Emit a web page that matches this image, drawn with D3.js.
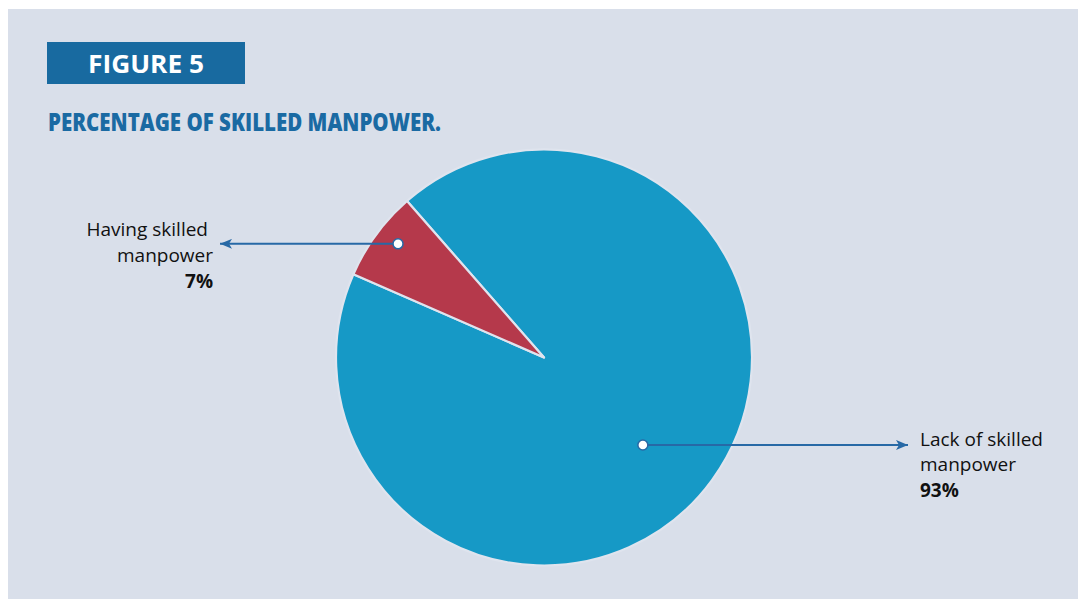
<!DOCTYPE html>
<html>
<head>
<meta charset="utf-8">
<script src="https://cdn.jsdelivr.net/npm/d3@7"></script>
<style>
  html, body { margin: 0; padding: 0; background: #ffffff; }
  svg { display: block; }
</style>
</head>
<body>
<svg id="chart" width="1078" height="599"></svg>
<script>
// Survey result: share of respondents with / without skilled manpower
const categories = ["Lack of skilled manpower", "Having skilled manpower"];
const labelLines = [["Lack of skilled", "manpower"], ["Having skilled", "manpower"]];
const values = [93, 7];
const sliceColors = ["#1699c6", "#b5394b"];

const W = 1078, H = 599;
const svg = d3.select("#chart");

// panel background
svg.append("rect")
  .attr("x", 8).attr("y", 9)
  .attr("width", W - 8).attr("height", H - 9)
  .attr("fill", "#d9dfea");

// figure tag
svg.append("rect")
  .attr("x", 47).attr("y", 42)
  .attr("width", 198).attr("height", 42)
  .attr("fill", "#186aa0");
svg.append("text")
  .attr("x", 146).attr("y", 73)
  .attr("text-anchor", "middle")
  .attr("font-family", "'Open Sans', sans-serif")
  .attr("font-weight", 700)
  .attr("font-size", 25)
  .attr("textLength", 116)
  .attr("lengthAdjust", "spacingAndGlyphs")
  .attr("fill", "#ffffff")
  .text("FIGURE 5");

// title
svg.append("text")
  .attr("x", 48).attr("y", 131)
  .attr("font-family", "'Open Sans', sans-serif")
  .attr("font-weight", 800)
  .attr("font-size", 25)
  .attr("textLength", 393)
  .attr("lengthAdjust", "spacingAndGlyphs")
  .attr("fill", "#1a6aa3")
  .text("PERCENTAGE OF SKILLED MANPOWER.");

// pie
const cx = 544, cy = 357.5, R = 208;
const deg = Math.PI / 180;

const pie = d3.pie()
  .sort(null)
  .value(d => d)
  .startAngle(-41.2 * deg)
  .endAngle(-41.2 * deg + 2 * Math.PI);

const arcs = pie(values);
const arc = d3.arc().innerRadius(0).outerRadius(R);

const g = svg.append("g").attr("transform", `translate(${cx},${cy})`);

g.selectAll("path.slice")
  .data(arcs)
  .join("path")
  .attr("class", "slice")
  .attr("d", arc)
  .attr("fill", (d, i) => sliceColors[i])
  .attr("stroke", "#dfe4ee")
  .attr("stroke-width", 2.2)
  .attr("stroke-linejoin", "round");

// arrow markers
const defs = svg.append("defs");
defs.append("marker")
  .attr("id", "arrowHead")
  .attr("viewBox", "0 0 12 10")
  .attr("refX", 12).attr("refY", 5)
  .attr("markerUnits", "userSpaceOnUse")
  .attr("markerWidth", 13).attr("markerHeight", 10)
  .attr("orient", "auto")
  .append("path")
  .attr("d", "M0,0 L12,5 L0,10 L3,5 Z")
  .attr("fill", "#2769a6");

// leader layout per slice: angle offset from the slice middle, radius, arrow end, label side
const leaders = [
  { dAngle: 5.3, r: 132, endX: 908, side: "right", textX: 920, firstInset: 0 },
  { dAngle: 1.7, r: 185, endX: 220, side: "left", textX: 213, firstInset: 5 }
];

const fmt = v => v + "%";

arcs.forEach((a, i) => {
  const L = leaders[i];
  const mid = (a.startAngle + a.endAngle) / 2 + L.dAngle * deg;
  const px = cx + L.r * Math.sin(mid);
  const py = cy - L.r * Math.cos(mid);

  svg.append("line")
    .attr("x1", px).attr("y1", py)
    .attr("x2", L.endX).attr("y2", py)
    .attr("stroke", "#2769a6")
    .attr("stroke-width", 2)
    .attr("marker-end", "url(#arrowHead)");

  svg.append("circle")
    .attr("cx", px).attr("cy", py)
    .attr("r", 5)
    .attr("fill", "#ffffff")
    .attr("stroke", "#2769a6")
    .attr("stroke-width", 1.5);

  const anchor = L.side === "left" ? "end" : "start";
  const firstBase = L.side === "left" ? py - 7.5 : py + 1;
  const t = svg.append("text")
    .attr("font-family", "'Open Sans', sans-serif")
    .attr("font-size", 19)
    .attr("fill", "#111111")
    .attr("text-anchor", anchor);
  labelLines[i].forEach((ln, k) => {
    t.append("tspan")
      .attr("x", L.textX - (k === 0 ? L.firstInset : 0))
      .attr("y", firstBase + k * 25.5)
      .text(ln);
  });
  t.append("tspan")
    .attr("x", L.textX)
    .attr("y", firstBase + 2 * 25.5 + 0.5)
    .attr("font-weight", 700)
    .text(fmt(values[i]));
});
</script>
</body>
</html>
